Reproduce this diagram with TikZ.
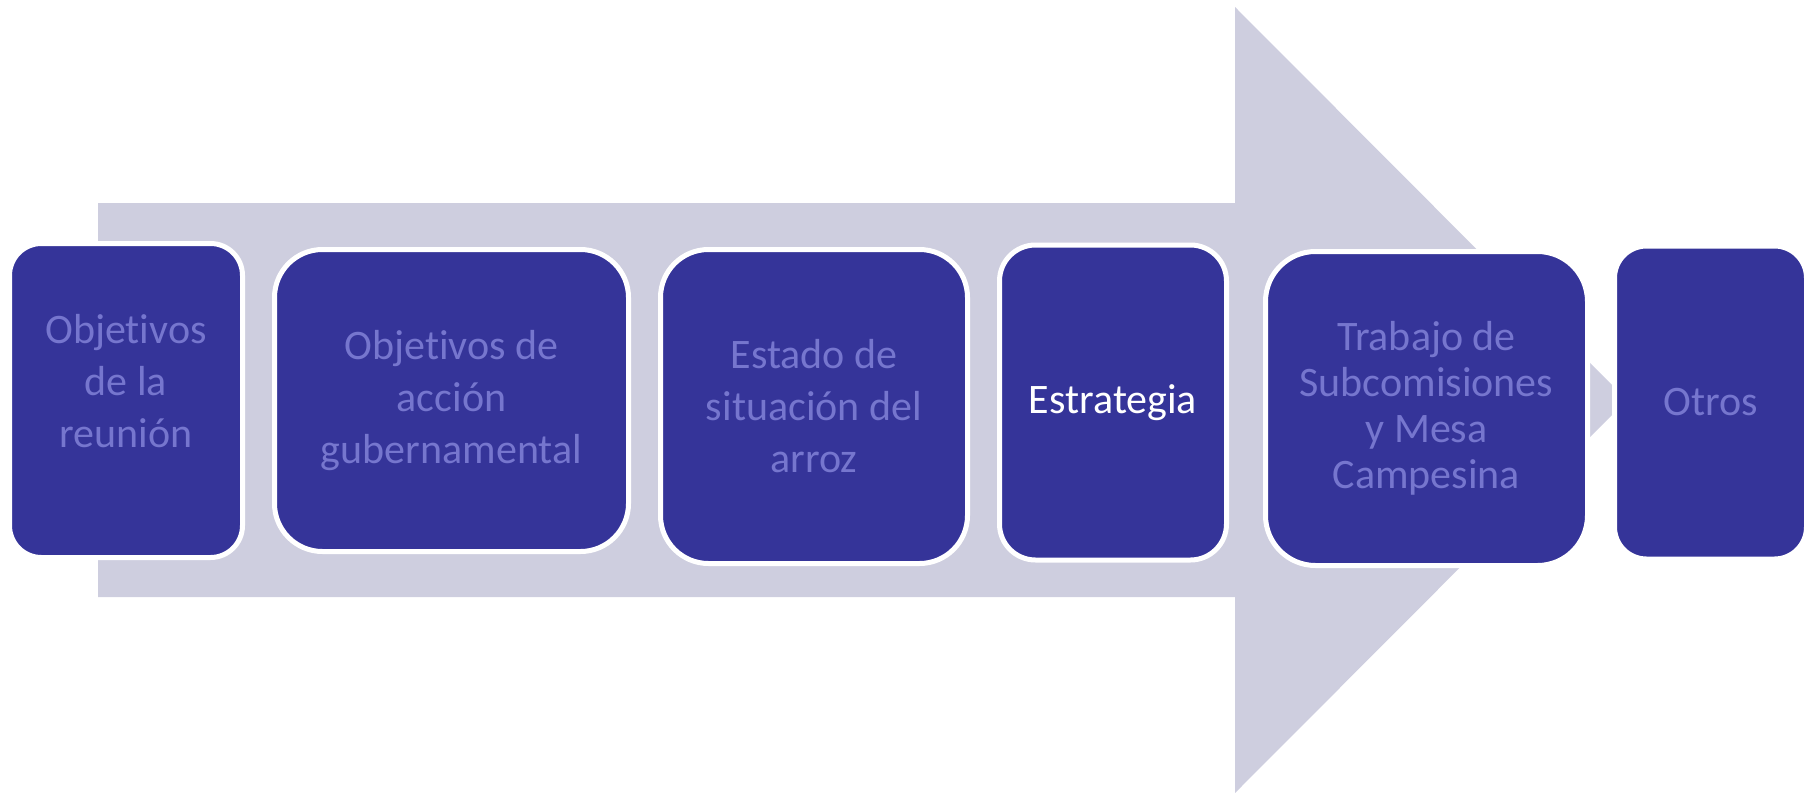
\documentclass[tikz,border=0pt]{standalone}
\usepackage{fontspec}
\setmainfont{Carlito}[Ligatures=NoCommon]
\usetikzlibrary{positioning}
\definecolor{boxblue}{RGB}{53,52,153}
\definecolor{arrowgray}{RGB}{206,206,223}
\definecolor{textlav}{RGB}{118,118,206}

\begin{document}
\begin{tikzpicture}[x=0.5pt,y=-0.5pt,node distance=13.5pt,
	item node/.style={rectangle,draw=white,line width=2.5pt,fill=boxblue,text=textlav,
		align=center,inner sep=2pt,font=\fontsize{21}{26}\selectfont}]
	
	\useasboundingbox (0,0) rectangle (1812,793);
	\fill[arrowgray] (98,203) -- (1235,203) -- (1235,7) -- (1627,400) -- (1235,793) -- (1235,597) -- (98,597) -- cycle;
	
	\node[item node,minimum width=116.5pt,minimum height=157pt,rounded corners=16pt] (1) at (126,400.5) {Objetivos\\de la\\reunión\\[-6pt]\mbox{}};
	\node[item node,minimum width=177pt,minimum height=151pt,rounded corners=24pt] (2) [right=of 1] {Objetivos de\\acción\\gubernamental};
	\node[item node,minimum width=153.5pt,minimum height=157pt,rounded corners=24pt,yshift=-3pt] (3) [right=of 2] {Estado de\\situación del\\arroz};
	\node[item node,minimum width=113.5pt,minimum height=157.5pt,rounded corners=18pt,yshift=2pt,text=white] (4) [right=of 3] {Estrategia};
	\node[item node,minimum width=161pt,minimum height=157pt,rounded corners=25pt,yshift=-3pt,
		font=\fontsize{21}{23}\selectfont] (5) [right=17pt of 4] {Trabajo de\\Subcomisiones\\y Mesa\\Campesina};
	\node[item node,minimum width=96pt,minimum height=156.5pt,rounded corners=16pt,yshift=3pt] (6) [right=11pt of 5] {Otros};
	
\end{tikzpicture}
\end{document}
